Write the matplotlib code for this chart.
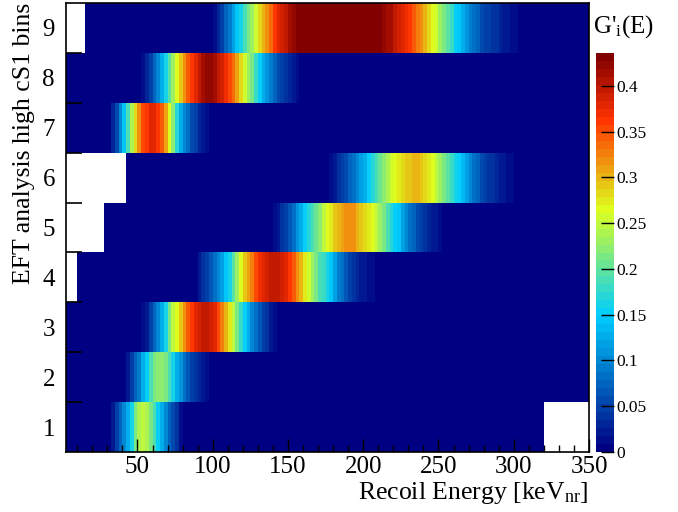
"""2D map of the EFT signal templates G'_i(E) per high-cS1 analysis bin."""

import numpy as np
import matplotlib.pyplot as plt
from matplotlib.colors import LinearSegmentedColormap, Normalize
from matplotlib.ticker import FixedLocator, MultipleLocator

plt.rcParams["font.family"] = ["Liberation Serif", "DejaVu Serif"]
plt.rcParams["mathtext.fontset"] = "custom"
plt.rcParams["mathtext.rm"] = "Liberation Serif"
plt.rcParams["mathtext.it"] = "Liberation Serif:italic"

# 2.5 keV bins from 2.5 to 350 keVnr, nine cS1 bins
E_LO, E_HI, E_STEP = 2.5, 350.0, 2.5
cs1_bins = [1, 2, 3, 4, 5, 6, 7, 8, 9]

# lower edge of the first bin listed for each row, then one content per 2.5 keV bin
start_energy = [30.0, 40.0, 52.5, 87.5, 137.5, 175.0, 30.0, 52.5, 97.5]

row1 = [0.008, 0.025, 0.045, 0.07, 0.10, 0.13, 0.165, 0.215, 0.24, 0.245,
        0.24, 0.215, 0.185, 0.155, 0.125, 0.10, 0.075, 0.055, 0.035, 0.015]
row2 = [0.008, 0.025, 0.045, 0.07, 0.095, 0.125, 0.155, 0.19, 0.215, 0.222,
        0.222, 0.215, 0.19, 0.16, 0.13, 0.105, 0.085, 0.065, 0.05, 0.04,
        0.03, 0.02, 0.01]
row3 = [0.01, 0.025, 0.045, 0.07, 0.10, 0.13, 0.165, 0.21, 0.245, 0.27,
        0.295, 0.32, 0.345, 0.365, 0.38, 0.39, 0.395, 0.395, 0.39, 0.375,
        0.355, 0.33, 0.305, 0.275, 0.245, 0.21, 0.18, 0.15, 0.125, 0.10,
        0.08, 0.065, 0.05, 0.035, 0.025, 0.015, 0.008]
row4 = [0.008, 0.02, 0.035, 0.05, 0.065, 0.08, 0.10, 0.12, 0.14, 0.165,
        0.20, 0.235, 0.265, 0.29, 0.31, 0.33, 0.35, 0.37, 0.38, 0.39,
        0.395, 0.397, 0.395, 0.39, 0.38, 0.365, 0.345, 0.32, 0.30, 0.275,
        0.255, 0.235, 0.21, 0.19, 0.175, 0.16, 0.14, 0.115, 0.095, 0.08,
        0.065, 0.05, 0.04, 0.03, 0.025, 0.02, 0.015, 0.01, 0.005]
row5 = [0.008, 0.015, 0.025, 0.035, 0.05, 0.065, 0.085, 0.105, 0.13, 0.15,
        0.17, 0.19, 0.205, 0.225, 0.245, 0.262, 0.275, 0.29, 0.30, 0.31,
        0.318, 0.318, 0.315, 0.305, 0.295, 0.285, 0.275, 0.265, 0.25, 0.23,
        0.21, 0.19, 0.17, 0.155, 0.14, 0.12, 0.10, 0.085, 0.07, 0.06,
        0.05, 0.04, 0.03, 0.025, 0.018, 0.012, 0.007, 0.004]
row6 = [0.008, 0.015, 0.025, 0.035, 0.045, 0.055, 0.07, 0.085, 0.10, 0.115,
        0.13, 0.15, 0.17, 0.19, 0.205, 0.22, 0.24, 0.255, 0.265, 0.275,
        0.285, 0.29, 0.295, 0.298, 0.298, 0.295, 0.285, 0.275, 0.265, 0.25,
        0.235, 0.215, 0.195, 0.18, 0.165, 0.15, 0.135, 0.115, 0.10, 0.085,
        0.07, 0.06, 0.05, 0.04, 0.035, 0.03, 0.025, 0.02, 0.015, 0.01,
        0.007, 0.004]
row7 = [0.008, 0.03, 0.06, 0.10, 0.14, 0.19, 0.24, 0.28, 0.32, 0.35,
        0.365, 0.375, 0.375, 0.365, 0.345, 0.31, 0.27, 0.22, 0.17, 0.13,
        0.10, 0.08, 0.06, 0.045, 0.03, 0.02, 0.01]
row8 = [0.01, 0.03, 0.05, 0.075, 0.10, 0.13, 0.16, 0.20, 0.235, 0.265,
        0.29, 0.32, 0.345, 0.365, 0.38, 0.395, 0.41, 0.42, 0.425, 0.415,
        0.40, 0.385, 0.37, 0.355, 0.335, 0.31, 0.285, 0.26, 0.235, 0.21,
        0.18, 0.155, 0.13, 0.11, 0.09, 0.075, 0.06, 0.05, 0.04, 0.03,
        0.022, 0.015, 0.008]
row9 = [0.005, 0.015, 0.03, 0.05, 0.07, 0.09, 0.115, 0.14, 0.16, 0.185,
        0.21, 0.235, 0.26, 0.28, 0.30, 0.32, 0.34, 0.36, 0.375, 0.39,
        0.40, 0.41, 0.42, 0.428, 0.435, 0.435, 0.435, 0.435, 0.435, 0.436,
        0.436, 0.436, 0.436, 0.436, 0.436, 0.436, 0.436, 0.436, 0.435, 0.435,
        0.435, 0.435, 0.435, 0.435, 0.428, 0.428, 0.42, 0.415, 0.41, 0.40,
        0.39, 0.38, 0.37, 0.36, 0.345, 0.33, 0.315, 0.30, 0.285, 0.27,
        0.255, 0.235, 0.215, 0.195, 0.175, 0.155, 0.14, 0.125, 0.11, 0.095,
        0.08, 0.07, 0.06, 0.05, 0.045, 0.04, 0.035, 0.03, 0.025, 0.02,
        0.015, 0.01, 0.006]

# tiny content everywhere else; bins with exactly zero content stay white
floor_content = 1e-4
empty_ranges = [(1, 320.0, 350.0), (4, 2.5, 10.0), (5, 2.5, 27.5),
                (6, 2.5, 42.5), (9, 2.5, 15.0)]

cbar_ticks = [0, 0.05, 0.1, 0.15, 0.2, 0.25, 0.3, 0.35, 0.4]


def _root_palette():
    # the usual 5-stop ROOT rainbow, 50 contour colours
    stops = [0.00, 0.34, 0.61, 0.84, 1.00]
    red = [0.00, 0.00, 0.87, 1.00, 0.51]
    green = [0.00, 0.81, 1.00, 0.20, 0.00]
    blue = [0.51, 1.00, 0.12, 0.00, 0.00]
    return LinearSegmentedColormap.from_list(
        "root_rainbow", list(zip(stops, zip(red, green, blue))), N=50)


def build_grid():
    edges = np.arange(E_LO, E_HI + E_STEP / 2, E_STEP)
    grid = np.full((len(cs1_bins), len(edges) - 1), floor_content)
    rows = [row1, row2, row3, row4, row5, row6, row7, row8, row9]
    for i, (e0, vals) in enumerate(zip(start_energy, rows)):
        k = int(round((e0 - E_LO) / E_STEP))
        grid[i, k:k + len(vals)] = vals
    for b, lo, hi in empty_ranges:
        k0 = int(round((lo - E_LO) / E_STEP))
        k1 = int(round((hi - E_LO) / E_STEP))
        grid[b - 1, k0:k1] = 0.0
    return edges, np.ma.masked_equal(grid, 0.0)


def main():
    edges, grid = build_grid()
    y_edges = np.arange(0.5, len(cs1_bins) + 1, 1.0)

    W, H = 678, 512
    fig = plt.figure(figsize=(W / 100, H / 100), dpi=100)
    ax = fig.add_axes([66 / W, 1 - 452 / H, (589 - 66) / W, (452 - 3) / H])
    cax = fig.add_axes([596 / W, 1 - 452 / H, (614 - 596) / W, (452 - 53) / H])

    cmap = _root_palette()
    norm = Normalize(0.0, grid.max())
    mesh = ax.pcolormesh(edges, y_edges, grid, cmap=cmap, norm=norm)

    ax.set_xlim(E_LO, E_HI)
    ax.set_ylim(0.5, 9.5)
    for sp in ax.spines.values():
        sp.set_linewidth(1.2)

    ax.xaxis.set_major_locator(MultipleLocator(50))
    ax.xaxis.set_minor_locator(MultipleLocator(10))
    ax.tick_params(axis="x", which="major", direction="in", length=9.7,
                   width=1.0, labelsize=18, pad=3, top=False)
    ax.tick_params(axis="x", which="minor", direction="in", length=4.9,
                   width=1.0, top=False)

    ax.set_yticks(cs1_bins)
    ax.yaxis.set_minor_locator(FixedLocator(np.arange(1.5, 9.0, 1.0)))
    ax.tick_params(axis="y", which="major", length=0, labelsize=18, pad=8)
    ax.tick_params(axis="y", which="minor", direction="in", length=11.5,
                   width=1.2, right=False)

    cb = fig.colorbar(mesh, cax=cax)
    cb.outline.set_visible(False)
    cb.set_ticks(cbar_ticks)
    cb.set_ticklabels([f"{t:g}" for t in cbar_ticks])
    cax.tick_params(direction="in", length=9.7, width=1.0, labelsize=12.5,
                    pad=2, colors="black")
    cax.minorticks_off()

    fig.text(588 / W, 1 - 499 / H, r"Recoil Energy [keV$_{\mathrm{nr}}$]",
             ha="right", va="baseline", fontsize=18.5)
    fig.text(24 / W, 1 - 3 / H, "EFT analysis high cS1 bins", rotation=90,
             ha="center", va="top", fontsize=18.5)
    fig.text(593 / W, 1 - 33 / H, r"G$'_{\mathrm{i}}$(E)",
             ha="left", va="baseline", fontsize=18)

    fig.savefig("out.png", dpi=100)
    plt.close(fig)


if __name__ == "__main__":
    main()
